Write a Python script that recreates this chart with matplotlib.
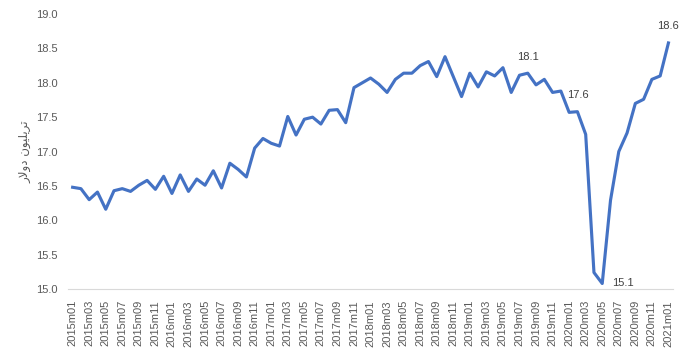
import matplotlib
matplotlib.use("Agg")
import matplotlib.pyplot as plt
import numpy as np

# monthly values, 2015m01 .. 2021m01 (trillion dollars)
months = [f"{y}m{m:02d}" for y in range(2015, 2022) for m in range(1, 13)][:73]
values = [
    16.48, 16.46, 16.30, 16.41, 16.16, 16.43, 16.46, 16.42, 16.51, 16.58, 16.45, 16.64,
    16.39, 16.66, 16.42, 16.60, 16.51, 16.72, 16.47, 16.83, 16.74, 16.63, 17.05, 17.19,
    17.12, 17.08, 17.51, 17.24, 17.47, 17.50, 17.40, 17.60, 17.61, 17.42, 17.93, 18.00,
    18.07, 17.98, 17.86, 18.05, 18.14, 18.14, 18.25, 18.31, 18.09, 18.38, 18.09, 17.80,
    18.14, 17.94, 18.16, 18.10, 18.22, 17.86, 18.11, 18.14, 17.97, 18.05, 17.86, 17.88,
    17.57, 17.58, 17.25, 15.24, 15.08, 16.29, 17.00, 17.27, 17.70, 17.76, 18.05, 18.10,
    18.58,
]
# points carrying a data label: index -> placement
labelled = {55: "above", 61: "above", 64: "right", 72: "above"}

# "trillion dollars", written with presentation forms in visual order
ylabel = "\ufead\ufefb\ufeed\ufea9 \ufee5\ufeee\ufef4\ufee0\ufef3\ufeae\ufe97"

grey = "#595959"
fig = plt.figure(figsize=(6.87, 3.52), dpi=100)
ax = fig.add_axes([0.0997, 0.179, 0.8793, 0.781])

x = np.arange(len(values))
ax.plot(x, values, color="#4472C4", lw=2.25, solid_joinstyle="round")

for i, pos in labelled.items():
    off = (0, 12) if pos == "above" else (15, 0)
    ax.annotate(f"{values[i]:.1f}", (x[i], values[i]), xytext=off,
                textcoords="offset points", ha="center", va="center",
                fontsize=8, color="#404040", family="Liberation Sans")

ax.set_xlim(-0.5, len(values) - 0.5)
ax.set_ylim(15.0, 19.0)
ax.set_yticks(np.arange(15.0, 19.01, 0.5))
ax.set_yticklabels([f"{v:.1f}" for v in np.arange(15.0, 19.01, 0.5)],
                   fontsize=8, color=grey, family="Liberation Sans")
ax.set_xticks(x[::2])
ax.set_xticklabels(months[::2], rotation=90, fontsize=8, color=grey,
                   family="Liberation Sans")
ax.tick_params(length=0, pad=8)

for s in ["top", "right", "left"]:
    ax.spines[s].set_visible(False)
ax.spines["bottom"].set_color("#d9d9d9")

ax.set_ylabel(ylabel, fontsize=8.5, color=grey, family="DejaVu Sans", labelpad=3)

fig.savefig("out.png", dpi=100)
